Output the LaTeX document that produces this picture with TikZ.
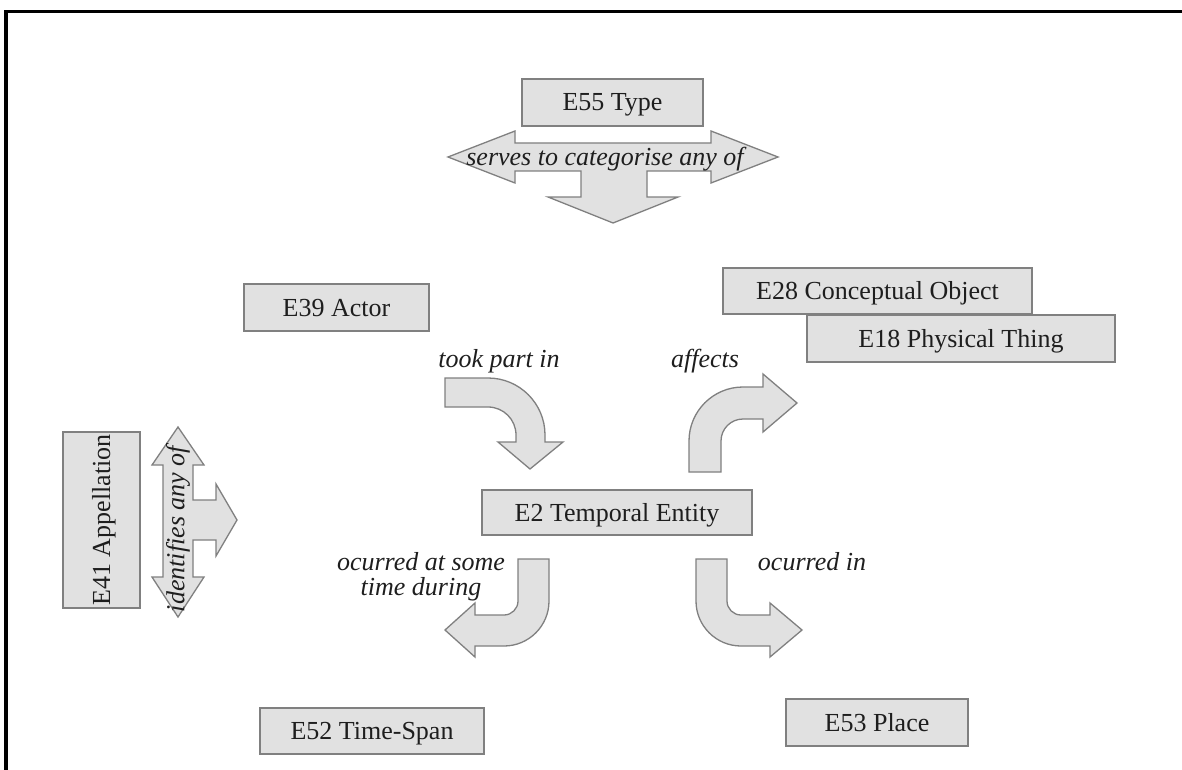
\documentclass[tikz,border=0pt]{standalone}
\usepackage{fontspec}
\setmainfont{Liberation Serif}
\definecolor{boxfill}{RGB}{225,225,225}
\definecolor{boxline}{RGB}{128,128,128}
\definecolor{inkc}{RGB}{30,30,30}
\tikzset{
  cbox/.style={draw=boxline, fill=boxfill, line width=1.6pt, inner sep=0pt,
    text=inkc, font=\fontsize{26}{30}\selectfont, text height=17pt, text depth=0pt},
  barrow/.style={draw=boxline, fill=boxfill, line width=1.3pt, line join=miter},
  rel/.style={text=inkc, font=\fontsize{26}{25}\selectfont\itshape, inner sep=0pt},
}
\begin{document}
\begin{tikzpicture}[x=1pt,y=-1pt]
\useasboundingbox (0,0) rectangle (1182,770);
\fill[white] (0,0) rectangle (1182,770);
% frame
\draw[line width=3.5pt, black] (6,770) -- (6,11.5) -- (1182,11.5);

% block arrows
\draw[barrow] (448,157) -- (515,131) -- (515,143) -- (711,143) -- (711,131) -- (778,157)
  -- (711,183) -- (711,171) -- (647,171) -- (647,197) -- (678,197) -- (613,223)
  -- (548,197) -- (581,197) -- (581,171) -- (515,171) -- (515,183) -- cycle;
\draw[barrow] (178,427) -- (204,465) -- (193,465) -- (193,500) -- (216,500) -- (216,484)
  -- (237,520) -- (216,556) -- (216,540) -- (193,540) -- (193,577) -- (204,577)
  -- (178,617) -- (152,577) -- (163,577) -- (163,465) -- (152,465) -- cycle;
% took part in
\draw[barrow] (445,378) -- (488,378) arc[start angle=-90, end angle=0, radius=57]
  -- (545,442) -- (563,442) -- (530,469) -- (498,442) -- (516,442) -- (516,435)
  arc[start angle=0, end angle=-90, radius=28] -- (445,407) -- cycle;
% affects
\draw[barrow] (689,472) -- (689,441) arc[start angle=180, end angle=270, radius=54]
  -- (763,387) -- (763,374) -- (797,403) -- (763,432) -- (763,419) -- (743,419)
  arc[start angle=270, end angle=180, radius=22] -- (721,472) -- cycle;
% ocurred at some time during
\draw[barrow] (518,559) -- (549,559) -- (549,601) arc[start angle=0, end angle=90, radius=45]
  -- (475,646) -- (475,657) -- (445,630) -- (475,603) -- (475,615) -- (504,615)
  arc[start angle=90, end angle=0, radius=14] -- cycle;
% ocurred in
\draw[barrow] (696,559) -- (727,559) -- (727,601) arc[start angle=180, end angle=90, radius=14]
  -- (770,615) -- (770,603) -- (802,630) -- (770,657) -- (770,646) -- (741,646)
  arc[start angle=90, end angle=180, radius=45] -- cycle;

% boxes
\node[cbox, minimum width=181pt, minimum height=47pt] (type) at (612.5,102.5) {E55 Type};
\node[cbox, minimum width=185pt, minimum height=47pt] (actor) at (336.5,307.5) {E39 Actor};
\node[cbox, minimum width=309pt, minimum height=46pt] (concept) at (877.5,291) {E28 Conceptual Object};
\node[cbox, minimum width=308pt, minimum height=47pt] (phys) at (961,338.5) {E18 Physical Thing};
\node[cbox, minimum width=270pt, minimum height=45pt] (temporal) at (617,512.5) {E2 Temporal Entity};
\node[cbox, minimum width=176pt, minimum height=77pt, rotate=90] (appel) at (101.5,520) {E41 Appellation};
\node[cbox, minimum width=224pt, minimum height=46pt] (timespan) at (372,731) {E52 Time-Span};
\node[cbox, minimum width=182pt, minimum height=47pt] (place) at (877,722.5) {E53 Place};

% relation labels
\node[rel, anchor=base] (lcat) at (605,166) {serves to categorise any of};
\node[rel, rotate=90] (lid) at (178,529) {identifies any of};
\node[rel, anchor=base] (ltook) at (499,367) {took part in};
\node[rel, anchor=base] (laff) at (705,367) {affects};
\node[rel, align=center] (ltime) at (421,577) {ocurred at some\\time during};
\node[rel, anchor=base] (lin) at (812,570) {ocurred in};
\end{tikzpicture}
\end{document}
